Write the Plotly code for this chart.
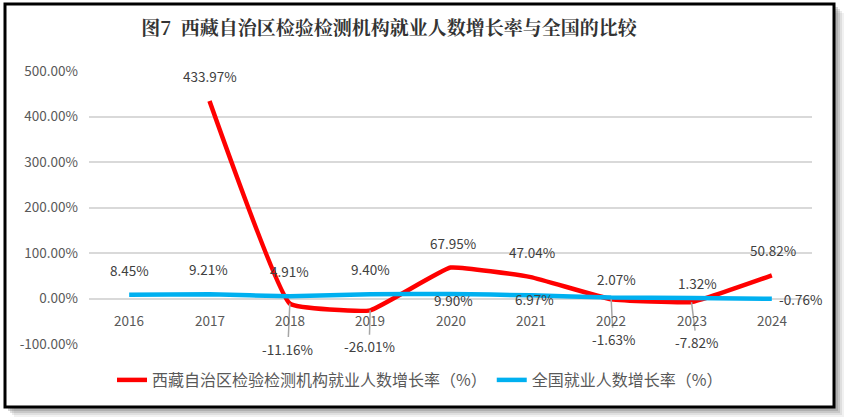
import plotly.graph_objects as go

years = ["2016", "2017", "2018", "2019", "2020", "2021", "2022", "2023", "2024"]
tibet = [None, 433.97, -11.16, -26.01, 67.95, 47.04, -1.63, -7.82, 50.82]
national = [8.45, 9.21, 4.91, 9.40, 9.90, 6.97, 2.07, 1.32, -0.76]
name_tibet = "西藏自治区检验检测机构就业人数增长率（%）"
name_nat = "全国就业人数增长率（%）"
title_text = "图7  西藏自治区检验检测机构就业人数增长率与全国的比较"
y_ticks = [-100, 0, 100, 200, 300, 400, 500]

# label placement (pixels): (xshift, yshift, leader)
tibet_pos = [None, (0, 25, False), (-2, 45, True), (-1, 36, True), (2, 25, False),
             (1, 25, False), (2, 40, True), (5, 40, True), (1, 25, False)]
nat_pos = [(0, 25), (-1, 25), (0, 25), (0, 25), (3, -6), (4, -4), (5, 19), (6, 15), (5, 0)]

W, H = 846, 420
ML, MR, MT, MB = 89, 34, 71, 76
PW, PH = W - ML - MR, H - MT - MB

def px(x):
    return (x - ML) / PW

def py(y):
    return (H - MB - y) / PH

FONT = "Noto Sans CJK SC, Noto Sans, sans-serif"
TXT = "#404040"
LBL = 13.5

fig = go.Figure()
fig.add_trace(go.Scatter(x=years, y=tibet, mode="lines", name=name_tibet,
                         line=dict(color="#FF0000", width=4.5, shape="spline", smoothing=0.3),
                         connectgaps=False, hoverinfo="skip"))
fig.add_trace(go.Scatter(x=years, y=national, mode="lines", name=name_nat,
                         line=dict(color="#00B0F0", width=4.5, shape="spline", smoothing=0.3),
                         hoverinfo="skip"))

ann = []
for i, (v, p) in enumerate(zip(tibet, tibet_pos)):
    if v is None:
        continue
    dx, dy, leader = p
    txt = f"{v:.2f}%"
    if leader:
        ann.append(dict(x=i, y=v, xref="x", yref="y", text=txt, showarrow=True,
                        ax=dx, ay=dy, arrowhead=0, arrowwidth=1.5, arrowcolor="#A6A6A6",
                        font=dict(size=LBL, color=TXT, family=FONT)))
    else:
        ann.append(dict(x=i, y=v, xref="x", yref="y", text=txt, showarrow=False,
                        xshift=dx, yshift=dy, font=dict(size=LBL, color=TXT, family=FONT)))
for i, (v, p) in enumerate(zip(national, nat_pos)):
    dx, dy = p
    last = i == len(years) - 1
    ann.append(dict(x=i, y=v, xref="x", yref="y", text=f"{v:.2f}%", showarrow=False,
                    xshift=dx, yshift=dy, xanchor="left" if last else "center",
                    font=dict(size=LBL, color=TXT, family=FONT)))
for i, yr in enumerate(years):
    ann.append(dict(x=i, y=0, xref="x", yref="y", text=yr, showarrow=False,
                    yshift=-21, font=dict(size=LBL, color="#595959", family=FONT)))

shapes = []
# shadow
for off, op in [(9, 0.10), (7, 0.15), (5, 0.22), (3, 0.3)]:
    shapes.append(dict(type="rect", xref="paper", yref="paper", layer="below",
                       x0=px(5 + off), x1=px(835 + off), y0=py(408 + off), y1=py(4 + off),
                       fillcolor=f"rgba(120,120,120,{op})", line=dict(width=0)))
shapes.append(dict(type="rect", xref="paper", yref="paper", layer="below",
                   x0=px(5), x1=px(834), y0=py(407), y1=py(4),
                   fillcolor="white", line=dict(color="black", width=3)))

fig.update_layout(
    width=W, height=H,
    margin=dict(l=ML, r=MR, t=MT, b=MB),
    paper_bgcolor="white", plot_bgcolor="rgba(0,0,0,0)",
    title=dict(text=title_text, x=389 / W, xanchor="center", y=1 - 28 / H, yanchor="middle",
               font=dict(size=19, color="#333333", family="Noto Serif CJK SC, " + FONT, weight="bold")),
    xaxis=dict(type="category", range=[-0.5, 8.5], showticklabels=False, showgrid=False,
               zeroline=False, showline=False, ticks=""),
    yaxis=dict(range=[-100, 500], tickvals=y_ticks, ticktext=[f"{v:.2f}%" for v in y_ticks],
               showgrid=True, gridcolor="#D9D9D9", gridwidth=1.5, zeroline=False,
               showline=False, ticks="", ticklabelstandoff=10,
               tickfont=dict(size=13.5, color="#595959", family=FONT)),
    legend=dict(orientation="h", x=px(112), xanchor="left", y=py(380), yanchor="middle",
                font=dict(size=16, color="#595959", family=FONT), bgcolor="rgba(0,0,0,0)",
                itemwidth=30),
    annotations=ann, shapes=shapes, showlegend=True,
)
fig.write_html("out.html", config={"displayModeBar": False},
               post_script="document.body.style.margin='0';document.body.style.padding='0';")
